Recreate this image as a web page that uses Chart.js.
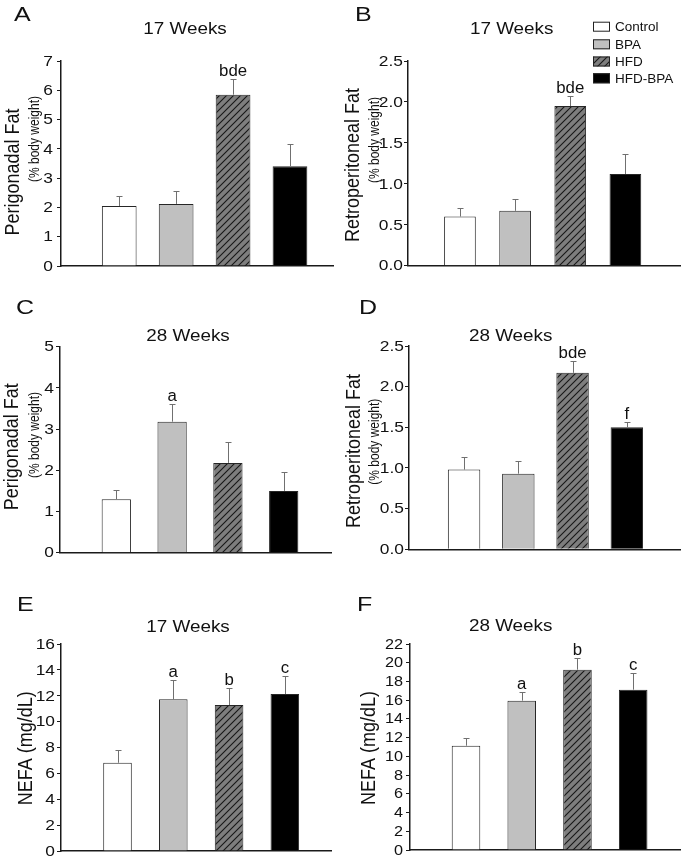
<!DOCTYPE html>
<html><head><meta charset="utf-8">
<script src="https://cdn.jsdelivr.net/npm/chart.js@4.4.0/dist/chart.umd.min.js"></script>
<style>
html,body{margin:0;padding:0;background:#fff;}
#wrap{position:relative;width:685px;height:862px;overflow:hidden;background:#fff;}
canvas{position:absolute;}
</style></head><body><div id="wrap"></div>
<script>
// ---------- DATA ----------
const categories = ['Control', 'BPA', 'HFD', 'HFD-BPA'];
const xPos = [1, 2, 3, 4];

const periFat17 = [2.05, 2.12, 5.85, 3.41];
const periFat17Err = [0.35, 0.44, 0.52, 0.74];
const periFat17Sig = ['', '', 'bde', ''];

const retroFat17 = [0.60, 0.67, 1.95, 1.12];
const retroFat17Err = [0.10, 0.15, 0.12, 0.24];
const retroFat17Sig = ['', '', 'bde', ''];

const periFat28 = [1.30, 3.18, 2.18, 1.50];
const periFat28Err = [0.22, 0.42, 0.50, 0.45];
const periFat28Sig = ['', 'a', '', ''];

const retroFat28 = [0.98, 0.93, 2.17, 1.50];
const retroFat28Err = [0.15, 0.16, 0.14, 0.07];
const retroFat28Sig = ['', '', 'bde', 'f'];

const nefa17 = [6.82, 11.72, 11.28, 12.13];
const nefa17Err = [0.96, 1.48, 1.32, 1.39];
const nefa17Sig = ['', 'a', 'b', 'c'];

const nefa28 = [11.14, 15.95, 19.26, 17.12];
const nefa28Err = [0.85, 0.95, 1.28, 1.75];
const nefa28Sig = ['', 'a', 'b', 'c'];

const ticksPeri17 = [0, 1, 2, 3, 4, 5, 6, 7];
const ticksRetro = [0, 0.5, 1.0, 1.5, 2.0, 2.5];
const ticksPeri28 = [0, 1, 2, 3, 4, 5];
const ticksNefa17 = [0, 2, 4, 6, 8, 10, 12, 14, 16];
const ticksNefa28 = [0, 2, 4, 6, 8, 10, 12, 14, 16, 18, 20, 22];

// ---------- STYLE / LAYOUT ----------
const FONT = "'Liberation Sans', Arial, Helvetica, sans-serif";
Chart.defaults.font.family = FONT;
Chart.defaults.color = '#1a1a1a';

function makeHatch() {
  const s = 7;
  const c = document.createElement('canvas');
  c.width = s; c.height = s;
  const g = c.getContext('2d');
  g.fillStyle = '#7e7e7e';
  g.fillRect(0, 0, s, s);
  g.strokeStyle = '#181818';
  g.lineWidth = 1.1;
  g.beginPath();
  g.moveTo(0, s); g.lineTo(s, 0);
  g.moveTo(-1, 1); g.lineTo(1, -1);
  g.moveTo(s - 1, s + 1); g.lineTo(s + 1, s - 1);
  g.stroke();
  return g.createPattern(c, 'repeat');
}
const hatch = makeHatch();
const barColors = ['#ffffff', '#c0c0c0', hatch, '#000000'];

const panels = [
  { x: 0, y: 0, w: 342, h: 285, area: { l: 61, t: 61, r: 333, b: 266 }, xMin: -0.023, xMax: 4.756,
    values: periFat17, err: periFat17Err, sig: periFat17Sig, ticks: ticksPeri17, dec: 0, tickGap: 8, tickFont: 15.5,
    letter: 'A', letterPos: [14, 15], title: '17 Weeks', titlePos: [185, 30],
    ylab: 'Perigonadal Fat', ylabPos: [13.5, 172], ysub: '(% body weight)', ysubPos: [35, 139], legend: false },
  { x: 342, y: 0, w: 343, h: 285, area: { l: 408, t: 61, r: 680, b: 265.7 }, xMin: 0.058, xMax: 4.99,
    values: retroFat17, err: retroFat17Err, sig: retroFat17Sig, ticks: ticksRetro, dec: 1, tickGap: 5, tickFont: 15.5,
    letter: 'B', letterPos: [355, 15], title: '17 Weeks', titlePos: [511.7, 30],
    ylab: 'Retroperitoneal Fat', ylabPos: [353.5, 165], ysub: '(% body weight)', ysubPos: [375, 140], legend: true },
  { x: 0, y: 285, w: 342, h: 285, area: { l: 60, t: 346.7, r: 331.7, b: 552.7 }, xMin: -0.009, xMax: 4.86,
    values: periFat28, err: periFat28Err, sig: periFat28Sig, ticks: ticksPeri28, dec: 0, tickGap: 6, tickFont: 15.5,
    letter: 'C', letterPos: [16, 308], title: '28 Weeks', titlePos: [188, 337],
    ylab: 'Perigonadal Fat', ylabPos: [13, 446.7], ysub: '(% body weight)', ysubPos: [35, 435], legend: false },
  { x: 342, y: 285, w: 343, h: 285, area: { l: 409, t: 346, r: 680, b: 549.3 }, xMin: -0.015, xMax: 4.98,
    values: retroFat28, err: retroFat28Err, sig: retroFat28Sig, ticks: ticksRetro, dec: 1, tickGap: 5, tickFont: 15.5,
    letter: 'D', letterPos: [359, 308], title: '28 Weeks', titlePos: [510.7, 337],
    ylab: 'Retroperitoneal Fat', ylabPos: [355, 451], ysub: '(% body weight)', ysubPos: [375, 441.7], legend: false },
  { x: 0, y: 570, w: 342, h: 292, area: { l: 61, t: 644, r: 331.7, b: 851 }, xMin: -0.013, xMax: 4.84,
    values: nefa17, err: nefa17Err, sig: nefa17Sig, ticks: ticksNefa17, dec: 0, tickGap: 6, tickFont: 15.5,
    letter: 'E', letterPos: [17, 605], title: '17 Weeks', titlePos: [188, 627.3],
    ylab: 'NEFA (mg/dL)', ylabPos: [27, 748.3], ysub: '', ysubPos: [0, 0], legend: false },
  { x: 342, y: 570, w: 343, h: 292, area: { l: 410, t: 644, r: 680, b: 850 }, xMin: -0.005, xMax: 4.84,
    values: nefa28, err: nefa28Err, sig: nefa28Sig, ticks: ticksNefa28, dec: 0, tickGap: 7, tickFont: 14.5,
    letter: 'F', letterPos: [357, 605], title: '28 Weeks', titlePos: [510.7, 627],
    ylab: 'NEFA (mg/dL)', ylabPos: [370, 748], ysub: '', ysubPos: [0, 0], legend: false }
];

// draw text stretched horizontally (page x direction)
function stretchText(ctx, text, x, y, sx, align) {
  ctx.save();
  ctx.translate(x, y);
  ctx.scale(sx, 1);
  ctx.textAlign = align;
  ctx.fillText(text, 0, 0);
  ctx.restore();
}
function rotText(ctx, text, x, y, sx) {
  ctx.save();
  ctx.translate(x, y);
  ctx.scale(sx, 1);
  ctx.rotate(-Math.PI / 2);
  ctx.textAlign = 'center';
  ctx.textBaseline = 'middle';
  ctx.fillText(text, 0, 0);
  ctx.restore();
}

const decoPlugin = {
  id: 'deco',
  afterDatasetsDraw(chart, args, o) {
    const ctx = chart.ctx;
    const meta = chart.getDatasetMeta(0);
    const ys = chart.scales.y;
    const p = o.p;
    ctx.save();
    meta.data.forEach((bar, i) => {
      const v = p.values[i], e = p.err[i];
      const yTop = ys.getPixelForValue(v);
      const yE = Math.round(ys.getPixelForValue(v + e)) + 0.5;
      const bx = Math.round(bar.x) + 0.5;
      ctx.strokeStyle = '#707070';
      ctx.lineWidth = 1;
      ctx.beginPath();
      ctx.moveTo(bx, yTop); ctx.lineTo(bx, yE);
      ctx.moveTo(bx - 3, yE); ctx.lineTo(bx + 3, yE);
      ctx.stroke();
      if (p.sig[i]) {
        ctx.fillStyle = '#111';
        ctx.font = '16px ' + FONT;
        ctx.textBaseline = 'alphabetic';
        stretchText(ctx, p.sig[i], bar.x, yE - 4, 1.05, 'center');
      }
    });
    ctx.restore();
  },
  afterDraw(chart, args, o) {
    const ctx = chart.ctx;
    const p = o.p;
    const ox = p.x, oy = p.y;
    const ys = chart.scales.y;
    ctx.save();
    ctx.fillStyle = '#111';
    // tick labels (from the y scale's ticks)
    ctx.font = p.tickFont + 'px ' + FONT;
    ctx.textBaseline = 'middle';
    ys.ticks.forEach((t) => {
      const yy = ys.getPixelForValue(t.value);
      stretchText(ctx, Number(t.value).toFixed(p.dec), ys.right - p.tickGap, yy + 0.5, 1.12, 'right');
    });
    // panel letter
    ctx.font = '20px ' + FONT;
    ctx.textBaseline = 'middle';
    stretchText(ctx, p.letter, p.letterPos[0] - ox, p.letterPos[1] - oy, 1.25, 'left');
    // title
    ctx.font = '16px ' + FONT;
    stretchText(ctx, p.title, p.titlePos[0] - ox, p.titlePos[1] - oy, 1.18, 'center');
    // y labels
    ctx.font = '18px ' + FONT;
    rotText(ctx, p.ylab, p.ylabPos[0] - ox, p.ylabPos[1] - oy, 1.1);
    if (p.ysub) {
      ctx.font = '12px ' + FONT;
      rotText(ctx, p.ysub, p.ysubPos[0] - ox, p.ysubPos[1] - oy, 1.2);
    }
    // legend
    if (p.legend) {
      const rows = [26.7, 44.3, 61.5, 78.3];
      categories.forEach((c, i) => {
        const bx = 593 - ox, by = rows[i] - oy;
        ctx.fillStyle = barColors[i];
        ctx.fillRect(bx, by - 5, 17, 10);
        ctx.strokeStyle = '#222';
        ctx.lineWidth = 1;
        ctx.strokeRect(bx + 0.5, by - 5 + 0.5, 16, 9);
        ctx.fillStyle = '#111';
        ctx.font = '13.5px ' + FONT;
        ctx.textBaseline = 'middle';
        stretchText(ctx, c, 615 - ox, by + 0.5, 1.0, 'left');
      });
    }
    ctx.restore();
  }
};

const wrap = document.getElementById('wrap');
panels.forEach((p) => {
  const cv = document.createElement('canvas');
  cv.width = p.w; cv.height = p.h;
  cv.style.left = p.x + 'px'; cv.style.top = p.y + 'px';
  cv.style.width = p.w + 'px'; cv.style.height = p.h + 'px';
  wrap.appendChild(cv);
  const yAxisW = p.area.l - p.x;
  const tickVals = p.ticks;
  new Chart(cv, {
    type: 'bar',
    data: {
      datasets: [{
        data: xPos.map((x, i) => ({ x: x, y: p.values[i] })),
        backgroundColor: barColors,
        borderColor: '#262626',
        borderWidth: 1,
        categoryPercentage: 1,
        barPercentage: 0.61
      }]
    },
    options: {
      responsive: false,
      animation: false,
      devicePixelRatio: 1,
      layout: { padding: { left: 0, top: p.area.t - p.y, right: p.x + p.w - p.area.r, bottom: p.y + p.h - p.area.b } },
      plugins: { legend: { display: false }, tooltip: { enabled: false }, title: { display: false }, deco: { p: p } },
      scales: {
        x: {
          type: 'linear', min: p.xMin, max: p.xMax, offset: false,
          ticks: { display: false },
          grid: { display: false, drawTicks: false },
          border: { display: true, color: '#1a1a1a', width: 1.5 },
          afterFit(s) { s.height = 0; }
        },
        y: {
          min: 0, max: tickVals[tickVals.length - 1],
          afterBuildTicks(s) { s.ticks = tickVals.map(v => ({ value: v })); },
          ticks: { display: false, autoSkip: false },
          grid: { display: true, drawOnChartArea: false, drawTicks: true, tickLength: 4, color: '#1a1a1a', lineWidth: 1 },
          border: { display: true, color: '#1a1a1a', width: 1.5 },
          afterFit(s) { s.width = yAxisW; }
        }
      }
    },
    plugins: [decoPlugin]
  });
});
</script>
</body></html>
